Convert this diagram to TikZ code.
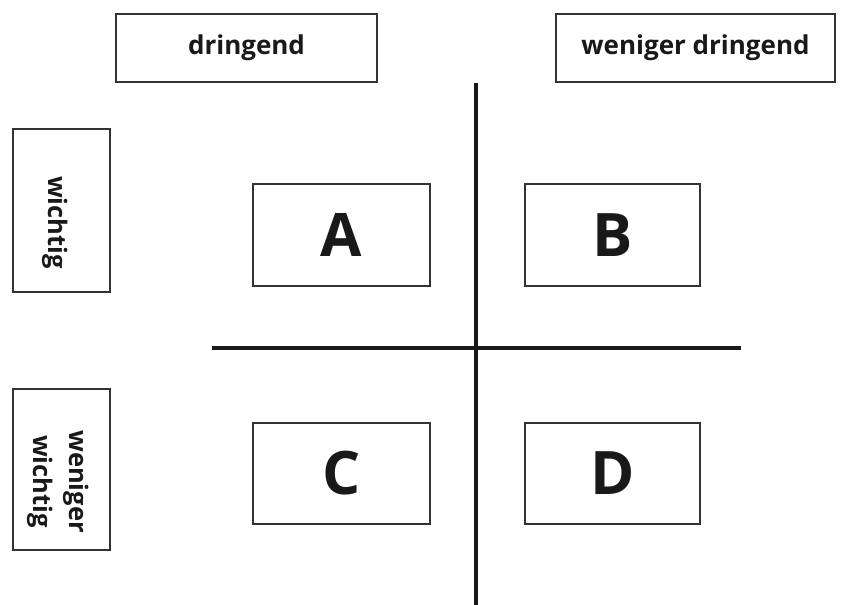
\documentclass[tikz,border=0pt]{standalone}
\usepackage{fontspec}
\setmainfont{Open Sans}
\begin{document}
\begin{tikzpicture}[x=1pt,y=-1pt,
  box/.style={draw=black!80, line width=1.1pt, fill=white, inner sep=0pt, font=\fontsize{26}{30}\selectfont\bfseries, text=black!90},
  letter/.style={box, font=\fontsize{60}{64}\selectfont\bfseries},
  side/.style={rotate=-90, align=center, inner sep=0pt, font=\fontsize{25.5}{36}\selectfont\bfseries, text=black!90},
  axis/.style={line width=4pt, draw=black!90}]
\useasboundingbox (0,0) rectangle (846,605);
% axes
\coordinate (vt) at (476,83);
\coordinate (vb) at (476,605);
\coordinate (hl) at (212,348);
\coordinate (hr) at (741,348);
\draw[axis] (vt) -- (vb);
\draw[axis] (hl) -- (hr);
% headers
\node[box, minimum width=261, minimum height=68] (dr) at (246.5,48) {dringend};
\node[box, minimum width=279, minimum height=68] (wd) at (695.5,48) {weniger dringend};
\node[box, minimum width=97, minimum height=163] (wi) at (61.5,210.5) {};
\node[side] (wit) at ([shift={(-6,12)}]wi.center) {wichtig};
\node[box, minimum width=97, minimum height=161] (ww) at (61.5,469.5) {};
\node[side] (wwt) at ([shift={(-3,12)}]ww.center) {weniger\\wichtig};
% quadrants
\node[letter, minimum width=177, minimum height=102] (A) at (341.5,235) {A};
\node[letter, minimum width=175, minimum height=102] (B) at (612.5,235) {B};
\node[letter, minimum width=177, minimum height=101] (C) at (341.5,473.5) {C};
\node[letter, minimum width=175, minimum height=101] (D) at (612.5,473.5) {D};
\end{tikzpicture}
\end{document}
